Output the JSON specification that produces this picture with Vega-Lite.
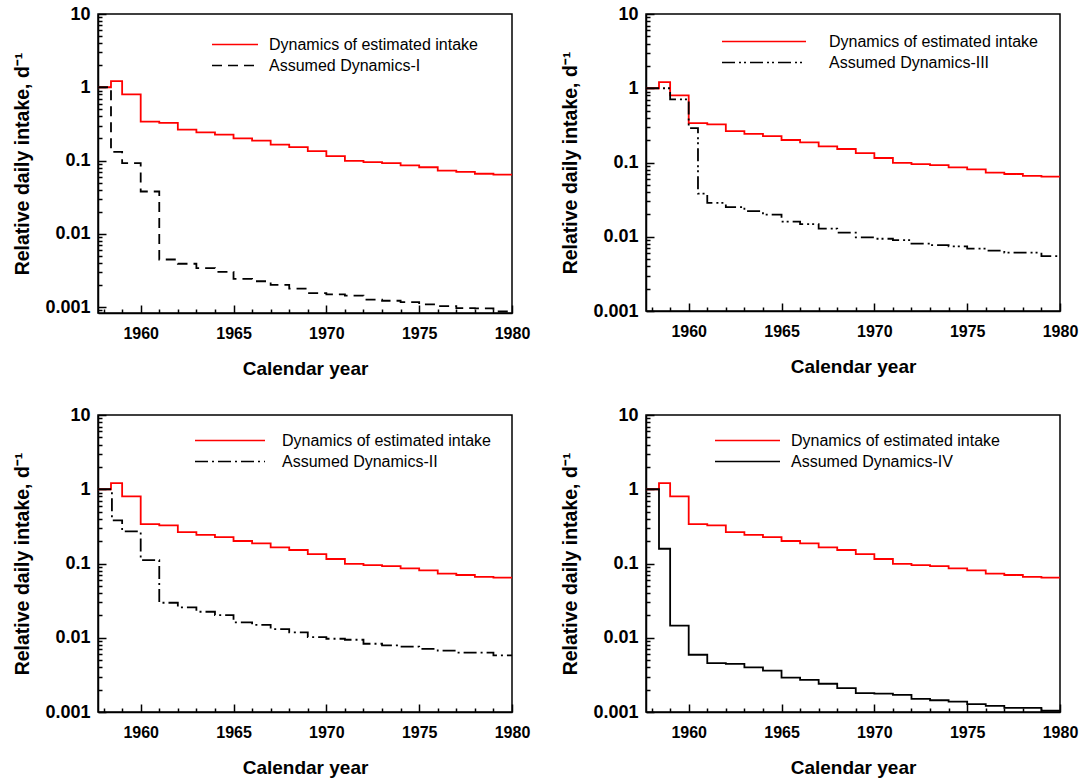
{
  "$schema": "https://vega.github.io/schema/vega-lite/v6.json",
  "background": "white",
  "padding": {"left": 12, "top": 4, "right": 5, "bottom": 5},
  "config": {
    "font": "Liberation Sans",
    "view": {"stroke": "black", "strokeWidth": 1.5},
    "axis": {"grid": false, "domainColor": "black", "domainWidth": 1.5, "tickColor": "black", "tickWidth": 1.5, "labelColor": "black", "titleColor": "black", "labelFont": "Liberation Sans", "labelFontWeight": "bold", "titleFont": "Liberation Sans", "titleFontWeight": "bold", "labelFlush": false},
    "axisX": {"labelFontSize": 16, "titleFontSize": 19},
    "axisY": {"labelFontSize": 18, "titleFontSize": 19.5},
    "legend": {"padding": 0, "labelFont": "Liberation Sans", "labelFontSize": 16, "labelColor": "black", "labelLimit": 400, "symbolType": "stroke", "symbolStrokeWidth": 1.5, "clipHeight": 19, "rowPadding": 2}
  },
  "datasets": {
    "d": [
      {"p": "all", "s": "Dynamics of estimated intake", "year": 1957.7, "v": 1.0},
      {"p": "all", "s": "Dynamics of estimated intake", "year": 1958.4, "v": 1.21},
      {"p": "all", "s": "Dynamics of estimated intake", "year": 1959, "v": 0.8},
      {"p": "all", "s": "Dynamics of estimated intake", "year": 1960, "v": 0.34},
      {"p": "all", "s": "Dynamics of estimated intake", "year": 1961, "v": 0.327},
      {"p": "all", "s": "Dynamics of estimated intake", "year": 1962, "v": 0.265},
      {"p": "all", "s": "Dynamics of estimated intake", "year": 1963, "v": 0.243},
      {"p": "all", "s": "Dynamics of estimated intake", "year": 1964, "v": 0.226},
      {"p": "all", "s": "Dynamics of estimated intake", "year": 1965, "v": 0.201},
      {"p": "all", "s": "Dynamics of estimated intake", "year": 1966, "v": 0.187},
      {"p": "all", "s": "Dynamics of estimated intake", "year": 1967, "v": 0.165},
      {"p": "all", "s": "Dynamics of estimated intake", "year": 1968, "v": 0.152},
      {"p": "all", "s": "Dynamics of estimated intake", "year": 1969, "v": 0.134},
      {"p": "all", "s": "Dynamics of estimated intake", "year": 1970, "v": 0.115},
      {"p": "all", "s": "Dynamics of estimated intake", "year": 1971, "v": 0.099},
      {"p": "all", "s": "Dynamics of estimated intake", "year": 1972, "v": 0.095},
      {"p": "all", "s": "Dynamics of estimated intake", "year": 1973, "v": 0.092},
      {"p": "all", "s": "Dynamics of estimated intake", "year": 1974, "v": 0.086},
      {"p": "all", "s": "Dynamics of estimated intake", "year": 1975, "v": 0.081},
      {"p": "all", "s": "Dynamics of estimated intake", "year": 1976, "v": 0.073},
      {"p": "all", "s": "Dynamics of estimated intake", "year": 1977, "v": 0.07},
      {"p": "all", "s": "Dynamics of estimated intake", "year": 1978, "v": 0.066},
      {"p": "all", "s": "Dynamics of estimated intake", "year": 1979, "v": 0.0644},
      {"p": "all", "s": "Dynamics of estimated intake", "year": 1980, "v": 0.0644},

      {"p": "I", "s": "Assumed Dynamics-I", "year": 1957.7, "v": 1.0},
      {"p": "I", "s": "Assumed Dynamics-I", "year": 1958.4, "v": 0.131},
      {"p": "I", "s": "Assumed Dynamics-I", "year": 1959, "v": 0.092},
      {"p": "I", "s": "Assumed Dynamics-I", "year": 1960, "v": 0.0378},
      {"p": "I", "s": "Assumed Dynamics-I", "year": 1961, "v": 0.00446},
      {"p": "I", "s": "Assumed Dynamics-I", "year": 1962, "v": 0.0039},
      {"p": "I", "s": "Assumed Dynamics-I", "year": 1963, "v": 0.0034},
      {"p": "I", "s": "Assumed Dynamics-I", "year": 1964, "v": 0.00303},
      {"p": "I", "s": "Assumed Dynamics-I", "year": 1965, "v": 0.00243},
      {"p": "I", "s": "Assumed Dynamics-I", "year": 1966, "v": 0.00225},
      {"p": "I", "s": "Assumed Dynamics-I", "year": 1967, "v": 0.00201},
      {"p": "I", "s": "Assumed Dynamics-I", "year": 1968, "v": 0.00178},
      {"p": "I", "s": "Assumed Dynamics-I", "year": 1969, "v": 0.00155},
      {"p": "I", "s": "Assumed Dynamics-I", "year": 1970, "v": 0.00149},
      {"p": "I", "s": "Assumed Dynamics-I", "year": 1971, "v": 0.00143},
      {"p": "I", "s": "Assumed Dynamics-I", "year": 1972, "v": 0.00126},
      {"p": "I", "s": "Assumed Dynamics-I", "year": 1973, "v": 0.00122},
      {"p": "I", "s": "Assumed Dynamics-I", "year": 1974, "v": 0.00117},
      {"p": "I", "s": "Assumed Dynamics-I", "year": 1975, "v": 0.00109},
      {"p": "I", "s": "Assumed Dynamics-I", "year": 1976, "v": 0.00103},
      {"p": "I", "s": "Assumed Dynamics-I", "year": 1977, "v": 0.00097},
      {"p": "I", "s": "Assumed Dynamics-I", "year": 1978, "v": 0.00096},
      {"p": "I", "s": "Assumed Dynamics-I", "year": 1979, "v": 0.00087},
      {"p": "I", "s": "Assumed Dynamics-I", "year": 1980, "v": 0.00087},

      {"p": "II", "s": "Assumed Dynamics-II", "year": 1957.7, "v": 1.0},
      {"p": "II", "s": "Assumed Dynamics-II", "year": 1958.45, "v": 0.38},
      {"p": "II", "s": "Assumed Dynamics-II", "year": 1959, "v": 0.27},
      {"p": "II", "s": "Assumed Dynamics-II", "year": 1960, "v": 0.111},
      {"p": "II", "s": "Assumed Dynamics-II", "year": 1961, "v": 0.0296},
      {"p": "II", "s": "Assumed Dynamics-II", "year": 1962, "v": 0.0257},
      {"p": "II", "s": "Assumed Dynamics-II", "year": 1963, "v": 0.0224},
      {"p": "II", "s": "Assumed Dynamics-II", "year": 1964, "v": 0.0202},
      {"p": "II", "s": "Assumed Dynamics-II", "year": 1965, "v": 0.0161},
      {"p": "II", "s": "Assumed Dynamics-II", "year": 1966, "v": 0.0149},
      {"p": "II", "s": "Assumed Dynamics-II", "year": 1967, "v": 0.0131},
      {"p": "II", "s": "Assumed Dynamics-II", "year": 1968, "v": 0.0118},
      {"p": "II", "s": "Assumed Dynamics-II", "year": 1969, "v": 0.0102},
      {"p": "II", "s": "Assumed Dynamics-II", "year": 1970, "v": 0.0097},
      {"p": "II", "s": "Assumed Dynamics-II", "year": 1971, "v": 0.0094},
      {"p": "II", "s": "Assumed Dynamics-II", "year": 1972, "v": 0.0083},
      {"p": "II", "s": "Assumed Dynamics-II", "year": 1973, "v": 0.0079},
      {"p": "II", "s": "Assumed Dynamics-II", "year": 1974, "v": 0.0076},
      {"p": "II", "s": "Assumed Dynamics-II", "year": 1975, "v": 0.0071},
      {"p": "II", "s": "Assumed Dynamics-II", "year": 1976, "v": 0.0067},
      {"p": "II", "s": "Assumed Dynamics-II", "year": 1977, "v": 0.0063},
      {"p": "II", "s": "Assumed Dynamics-II", "year": 1978, "v": 0.0063},
      {"p": "II", "s": "Assumed Dynamics-II", "year": 1979, "v": 0.0058},
      {"p": "II", "s": "Assumed Dynamics-II", "year": 1980, "v": 0.0058},

      {"p": "III", "s": "Assumed Dynamics-III", "year": 1957.7, "v": 1.0},
      {"p": "III", "s": "Assumed Dynamics-III", "year": 1959, "v": 0.71},
      {"p": "III", "s": "Assumed Dynamics-III", "year": 1960, "v": 0.29},
      {"p": "III", "s": "Assumed Dynamics-III", "year": 1960.5, "v": 0.038},
      {"p": "III", "s": "Assumed Dynamics-III", "year": 1961, "v": 0.0286},
      {"p": "III", "s": "Assumed Dynamics-III", "year": 1962, "v": 0.025},
      {"p": "III", "s": "Assumed Dynamics-III", "year": 1963, "v": 0.0221},
      {"p": "III", "s": "Assumed Dynamics-III", "year": 1964, "v": 0.0199},
      {"p": "III", "s": "Assumed Dynamics-III", "year": 1965, "v": 0.016},
      {"p": "III", "s": "Assumed Dynamics-III", "year": 1966, "v": 0.0148},
      {"p": "III", "s": "Assumed Dynamics-III", "year": 1967, "v": 0.0129},
      {"p": "III", "s": "Assumed Dynamics-III", "year": 1968, "v": 0.0114},
      {"p": "III", "s": "Assumed Dynamics-III", "year": 1969, "v": 0.0098},
      {"p": "III", "s": "Assumed Dynamics-III", "year": 1970, "v": 0.0094},
      {"p": "III", "s": "Assumed Dynamics-III", "year": 1971, "v": 0.009},
      {"p": "III", "s": "Assumed Dynamics-III", "year": 1972, "v": 0.0081},
      {"p": "III", "s": "Assumed Dynamics-III", "year": 1973, "v": 0.0077},
      {"p": "III", "s": "Assumed Dynamics-III", "year": 1974, "v": 0.0074},
      {"p": "III", "s": "Assumed Dynamics-III", "year": 1975, "v": 0.0069},
      {"p": "III", "s": "Assumed Dynamics-III", "year": 1976, "v": 0.0065},
      {"p": "III", "s": "Assumed Dynamics-III", "year": 1977, "v": 0.0061},
      {"p": "III", "s": "Assumed Dynamics-III", "year": 1978, "v": 0.0061},
      {"p": "III", "s": "Assumed Dynamics-III", "year": 1979, "v": 0.0055},
      {"p": "III", "s": "Assumed Dynamics-III", "year": 1980, "v": 0.0055},

      {"p": "IV", "s": "Assumed Dynamics-IV", "year": 1957.7, "v": 1.0},
      {"p": "IV", "s": "Assumed Dynamics-IV", "year": 1958.4, "v": 0.158},
      {"p": "IV", "s": "Assumed Dynamics-IV", "year": 1959, "v": 0.0146},
      {"p": "IV", "s": "Assumed Dynamics-IV", "year": 1960, "v": 0.0059},
      {"p": "IV", "s": "Assumed Dynamics-IV", "year": 1961, "v": 0.00454},
      {"p": "IV", "s": "Assumed Dynamics-IV", "year": 1962, "v": 0.00446},
      {"p": "IV", "s": "Assumed Dynamics-IV", "year": 1963, "v": 0.004},
      {"p": "IV", "s": "Assumed Dynamics-IV", "year": 1964, "v": 0.0036},
      {"p": "IV", "s": "Assumed Dynamics-IV", "year": 1965, "v": 0.0029},
      {"p": "IV", "s": "Assumed Dynamics-IV", "year": 1966, "v": 0.0027},
      {"p": "IV", "s": "Assumed Dynamics-IV", "year": 1967, "v": 0.0024},
      {"p": "IV", "s": "Assumed Dynamics-IV", "year": 1968, "v": 0.0021},
      {"p": "IV", "s": "Assumed Dynamics-IV", "year": 1969, "v": 0.0018},
      {"p": "IV", "s": "Assumed Dynamics-IV", "year": 1970, "v": 0.00177},
      {"p": "IV", "s": "Assumed Dynamics-IV", "year": 1971, "v": 0.0017},
      {"p": "IV", "s": "Assumed Dynamics-IV", "year": 1972, "v": 0.0015},
      {"p": "IV", "s": "Assumed Dynamics-IV", "year": 1973, "v": 0.00144},
      {"p": "IV", "s": "Assumed Dynamics-IV", "year": 1974, "v": 0.00138},
      {"p": "IV", "s": "Assumed Dynamics-IV", "year": 1975, "v": 0.00128},
      {"p": "IV", "s": "Assumed Dynamics-IV", "year": 1976, "v": 0.00121},
      {"p": "IV", "s": "Assumed Dynamics-IV", "year": 1977, "v": 0.00114},
      {"p": "IV", "s": "Assumed Dynamics-IV", "year": 1978, "v": 0.00114},
      {"p": "IV", "s": "Assumed Dynamics-IV", "year": 1979, "v": 0.00104},
      {"p": "IV", "s": "Assumed Dynamics-IV", "year": 1980, "v": 0.00104}
    ]
  },
  "columns": 2,
  "bounds": "flush",
  "spacing": {"row": 102, "column": 134},
  "resolve": {"scale": {"color": "independent", "strokeDash": "independent"}, "legend": {"color": "independent", "strokeDash": "independent"}},
  "concat": [
    {
      "width": 414, "height": 299,
      "data": {"name": "d"},
      "transform": [{"filter": "datum.p == 'all' || datum.p == 'I'"}],
      "layer": [
        {
          "mark": {"type": "line", "interpolate": "step-after", "clip": true, "strokeWidth": 1.8},
          "encoding": {
            "x": {"field": "year", "type": "quantitative", "scale": {"domain": [1957.7, 1980], "nice": false, "zero": false}, "axis": {"orient": "bottom", "values": [1960, 1965, 1970, 1975, 1980], "format": "d", "tickSize": -8, "labelPadding": 20.5, "title": "Calendar year", "titlePadding": 17.5}},
            "y": {"field": "v", "type": "quantitative", "scale": {"type": "log", "domain": [0.00083, 10], "nice": false}, "axis": {"orient": "left", "values": [0.001, 0.01, 0.1, 1, 10], "format": "~g", "tickSize": -8, "labelPadding": 16, "title": "Relative daily intake, d⁻¹", "titlePadding": 12}},
            "color": {"field": "s", "type": "nominal", "scale": {"domain": ["Dynamics of estimated intake", "Assumed Dynamics-I"], "range": ["#ff0000", "#000000"]}, "legend": {"title": null, "orient": "none", "legendX": 113, "legendY": 21, "symbolSize": 2116, "labelOffset": 10}},
            "strokeDash": {"field": "s", "type": "nominal", "scale": {"domain": ["Dynamics of estimated intake", "Assumed Dynamics-I"], "range": [[1, 0], [10, 6]]}, "legend": {"title": null, "orient": "none", "legendX": 113, "legendY": 21, "symbolSize": 2116, "labelOffset": 10}}
          }
        },
        {
          "mark": {"type": "point", "opacity": 0},
          "encoding": {
            "x": {"field": "year", "type": "quantitative", "scale": {"domain": [1957.7, 1980], "nice": false, "zero": false}, "axis": {"orient": "bottom", "values": [1958, 1959, 1961, 1962, 1963, 1964, 1966, 1967, 1968, 1969, 1971, 1972, 1973, 1974, 1976, 1977, 1978, 1979], "tickSize": -4, "labels": false, "domain": false, "title": null}},
            "y": {"field": "v", "type": "quantitative", "scale": {"type": "log", "domain": [0.00083, 10], "nice": false}, "axis": {"orient": "left", "values": [0.0009, 0.002, 0.003, 0.004, 0.005, 0.006, 0.007, 0.008, 0.009, 0.02, 0.03, 0.04, 0.05, 0.06, 0.07, 0.08, 0.09, 0.2, 0.3, 0.4, 0.5, 0.6, 0.7, 0.8, 0.9, 2, 3, 4, 5, 6, 7, 8, 9], "tickSize": -4, "labels": false, "domain": false, "title": null}}
          }
        }
      ],
      "resolve": {"scale": {"x": "independent", "y": "independent"}, "axis": {"x": "independent", "y": "independent"}}
    },
    {
      "width": 414, "height": 297,
      "data": {"name": "d"},
      "transform": [{"filter": "datum.p == 'all' || datum.p == 'III'"}],
      "layer": [
        {
          "mark": {"type": "line", "interpolate": "step-after", "clip": true, "strokeWidth": 1.8},
          "encoding": {
            "x": {"field": "year", "type": "quantitative", "scale": {"domain": [1957.7, 1980], "nice": false, "zero": false}, "axis": {"orient": "bottom", "values": [1960, 1965, 1970, 1975, 1980], "format": "d", "tickSize": -8, "labelPadding": 20.5, "title": "Calendar year", "titlePadding": 17.5}},
            "y": {"field": "v", "type": "quantitative", "scale": {"type": "log", "domain": [0.001, 10], "nice": false}, "axis": {"orient": "left", "values": [0.001, 0.01, 0.1, 1, 10], "format": "~g", "tickSize": -8, "labelPadding": 16, "title": "Relative daily intake, d⁻¹", "titlePadding": 12}},
            "color": {"field": "s", "type": "nominal", "scale": {"domain": ["Dynamics of estimated intake", "Assumed Dynamics-III"], "range": ["#ff0000", "#000000"]}, "legend": {"title": null, "orient": "none", "legendX": 75, "legendY": 18, "symbolSize": 7056, "labelOffset": 22}},
            "strokeDash": {"field": "s", "type": "nominal", "scale": {"domain": ["Dynamics of estimated intake", "Assumed Dynamics-III"], "range": [[1, 0], [13, 4, 2, 3, 2, 4]]}, "legend": {"title": null, "orient": "none", "legendX": 75, "legendY": 18, "symbolSize": 7056, "labelOffset": 22}}
          }
        },
        {
          "mark": {"type": "point", "opacity": 0},
          "encoding": {
            "x": {"field": "year", "type": "quantitative", "scale": {"domain": [1957.7, 1980], "nice": false, "zero": false}, "axis": {"orient": "bottom", "values": [1958, 1959, 1961, 1962, 1963, 1964, 1966, 1967, 1968, 1969, 1971, 1972, 1973, 1974, 1976, 1977, 1978, 1979], "tickSize": -4, "labels": false, "domain": false, "title": null}},
            "y": {"field": "v", "type": "quantitative", "scale": {"type": "log", "domain": [0.001, 10], "nice": false}, "axis": {"orient": "left", "values": [0.002, 0.003, 0.004, 0.005, 0.006, 0.007, 0.008, 0.009, 0.02, 0.03, 0.04, 0.05, 0.06, 0.07, 0.08, 0.09, 0.2, 0.3, 0.4, 0.5, 0.6, 0.7, 0.8, 0.9, 2, 3, 4, 5, 6, 7, 8, 9], "tickSize": -4, "labels": false, "domain": false, "title": null}}
          }
        }
      ],
      "resolve": {"scale": {"x": "independent", "y": "independent"}, "axis": {"x": "independent", "y": "independent"}}
    },
    {
      "width": 414, "height": 297,
      "data": {"name": "d"},
      "transform": [{"filter": "datum.p == 'all' || datum.p == 'II'"}],
      "layer": [
        {
          "mark": {"type": "line", "interpolate": "step-after", "clip": true, "strokeWidth": 1.8},
          "encoding": {
            "x": {"field": "year", "type": "quantitative", "scale": {"domain": [1957.7, 1980], "nice": false, "zero": false}, "axis": {"orient": "bottom", "values": [1960, 1965, 1970, 1975, 1980], "format": "d", "tickSize": -8, "labelPadding": 20.5, "title": "Calendar year", "titlePadding": 17.5}},
            "y": {"field": "v", "type": "quantitative", "scale": {"type": "log", "domain": [0.001, 10], "nice": false}, "axis": {"orient": "left", "values": [0.001, 0.01, 0.1, 1, 10], "format": "~g", "tickSize": -8, "labelPadding": 16, "title": "Relative daily intake, d⁻¹", "titlePadding": 12}},
            "color": {"field": "s", "type": "nominal", "scale": {"domain": ["Dynamics of estimated intake", "Assumed Dynamics-II"], "range": ["#ff0000", "#000000"]}, "legend": {"title": null, "orient": "none", "legendX": 96, "legendY": 16, "symbolSize": 4900, "labelOffset": 16}},
            "strokeDash": {"field": "s", "type": "nominal", "scale": {"domain": ["Dynamics of estimated intake", "Assumed Dynamics-II"], "range": [[1, 0], [13, 4, 2, 4]]}, "legend": {"title": null, "orient": "none", "legendX": 96, "legendY": 16, "symbolSize": 4900, "labelOffset": 16}}
          }
        },
        {
          "mark": {"type": "point", "opacity": 0},
          "encoding": {
            "x": {"field": "year", "type": "quantitative", "scale": {"domain": [1957.7, 1980], "nice": false, "zero": false}, "axis": {"orient": "bottom", "values": [1958, 1959, 1961, 1962, 1963, 1964, 1966, 1967, 1968, 1969, 1971, 1972, 1973, 1974, 1976, 1977, 1978, 1979], "tickSize": -4, "labels": false, "domain": false, "title": null}},
            "y": {"field": "v", "type": "quantitative", "scale": {"type": "log", "domain": [0.001, 10], "nice": false}, "axis": {"orient": "left", "values": [0.002, 0.003, 0.004, 0.005, 0.006, 0.007, 0.008, 0.009, 0.02, 0.03, 0.04, 0.05, 0.06, 0.07, 0.08, 0.09, 0.2, 0.3, 0.4, 0.5, 0.6, 0.7, 0.8, 0.9, 2, 3, 4, 5, 6, 7, 8, 9], "tickSize": -4, "labels": false, "domain": false, "title": null}}
          }
        }
      ],
      "resolve": {"scale": {"x": "independent", "y": "independent"}, "axis": {"x": "independent", "y": "independent"}}
    },
    {
      "width": 414, "height": 297,
      "data": {"name": "d"},
      "transform": [{"filter": "datum.p == 'all' || datum.p == 'IV'"}],
      "layer": [
        {
          "mark": {"type": "line", "interpolate": "step-after", "clip": true, "strokeWidth": 1.8},
          "encoding": {
            "x": {"field": "year", "type": "quantitative", "scale": {"domain": [1957.7, 1980], "nice": false, "zero": false}, "axis": {"orient": "bottom", "values": [1960, 1965, 1970, 1975, 1980], "format": "d", "tickSize": -8, "labelPadding": 20.5, "title": "Calendar year", "titlePadding": 17.5}},
            "y": {"field": "v", "type": "quantitative", "scale": {"type": "log", "domain": [0.001, 10], "nice": false}, "axis": {"orient": "left", "values": [0.001, 0.01, 0.1, 1, 10], "format": "~g", "tickSize": -8, "labelPadding": 16, "title": "Relative daily intake, d⁻¹", "titlePadding": 12}},
            "color": {"field": "s", "type": "nominal", "scale": {"domain": ["Dynamics of estimated intake", "Assumed Dynamics-IV"], "range": ["#ff0000", "#000000"]}, "legend": {"title": null, "orient": "none", "legendX": 68, "legendY": 16, "symbolSize": 4225, "labelOffset": 10}},
            "strokeDash": {"field": "s", "type": "nominal", "scale": {"domain": ["Dynamics of estimated intake", "Assumed Dynamics-IV"], "range": [[1, 0], [1, 0]]}, "legend": {"title": null, "orient": "none", "legendX": 68, "legendY": 16, "symbolSize": 4225, "labelOffset": 10}}
          }
        },
        {
          "mark": {"type": "point", "opacity": 0},
          "encoding": {
            "x": {"field": "year", "type": "quantitative", "scale": {"domain": [1957.7, 1980], "nice": false, "zero": false}, "axis": {"orient": "bottom", "values": [1958, 1959, 1961, 1962, 1963, 1964, 1966, 1967, 1968, 1969, 1971, 1972, 1973, 1974, 1976, 1977, 1978, 1979], "tickSize": -4, "labels": false, "domain": false, "title": null}},
            "y": {"field": "v", "type": "quantitative", "scale": {"type": "log", "domain": [0.001, 10], "nice": false}, "axis": {"orient": "left", "values": [0.002, 0.003, 0.004, 0.005, 0.006, 0.007, 0.008, 0.009, 0.02, 0.03, 0.04, 0.05, 0.06, 0.07, 0.08, 0.09, 0.2, 0.3, 0.4, 0.5, 0.6, 0.7, 0.8, 0.9, 2, 3, 4, 5, 6, 7, 8, 9], "tickSize": -4, "labels": false, "domain": false, "title": null}}
          }
        }
      ],
      "resolve": {"scale": {"x": "independent", "y": "independent"}, "axis": {"x": "independent", "y": "independent"}}
    }
  ]
}
